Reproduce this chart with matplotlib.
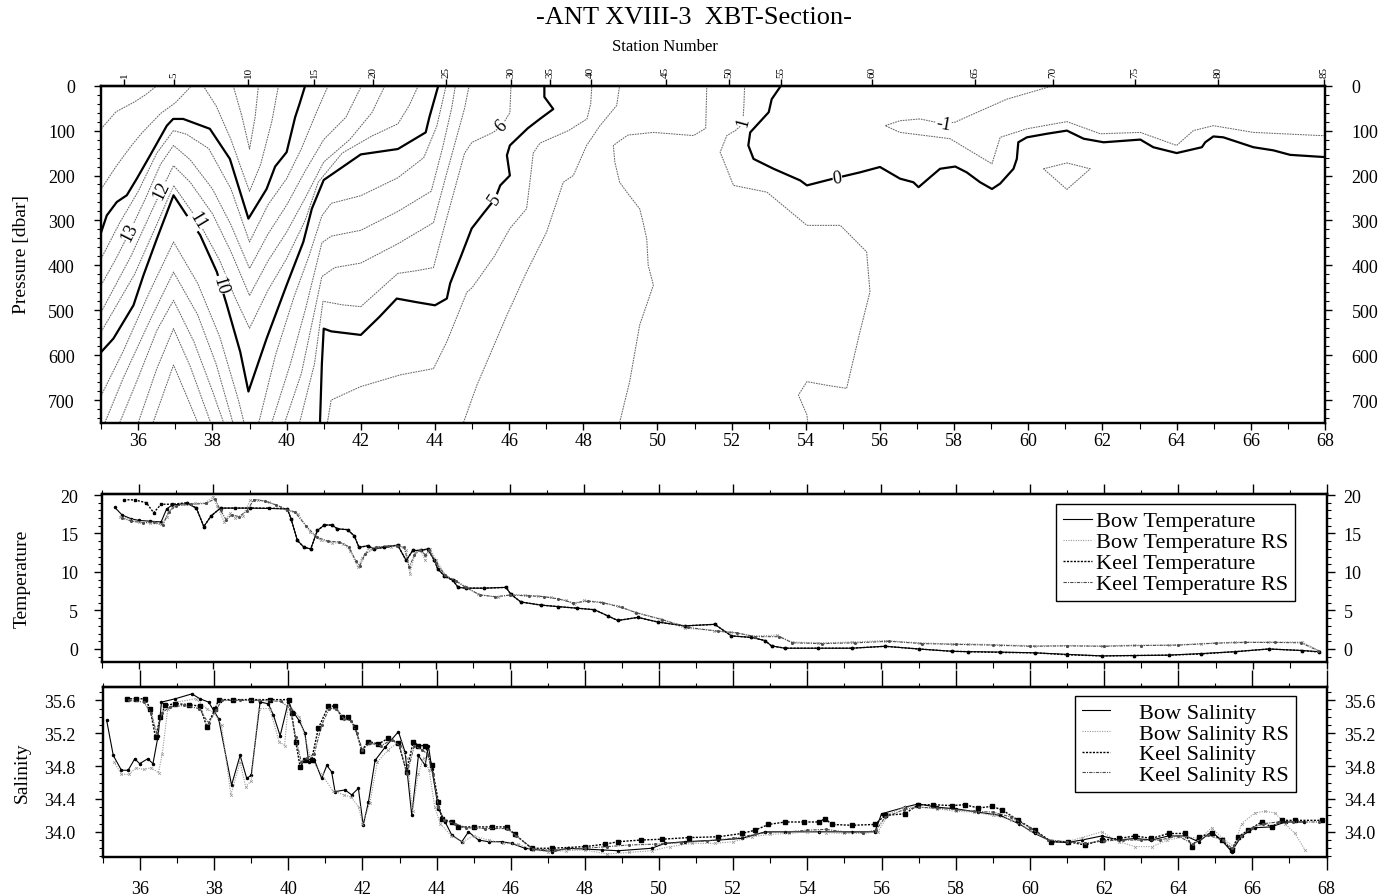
import matplotlib.pyplot as plt
from matplotlib.lines import Line2D
from matplotlib.ticker import MultipleLocator, FormatStrFormatter, NullFormatter

plt.rcParams['font.family'] = ['Liberation Serif', 'DejaVu Serif']
plt.rcParams['axes.linewidth'] = 1.6

# ---- station numbers along the track and their latitude (deg S) ----
station_no = [1, 5, 10, 15, 20, 25, 30, 35, 40, 45, 50, 55, 60, 65, 70, 75, 80, 85]
station_lat = [35.62, 36.95, 38.97, 40.75, 42.34, 44.29, 46.04, 47.09, 48.20,
               50.22, 51.92, 53.33, 55.78, 58.56, 60.67, 62.88, 65.12, 67.97]

# ---- XBT section: isotherms as (latitude, pressure) vertices ----
iso_18 = [(35.0, 96), (35.4, 58), (35.9, 36), (36.2, 20), (36.5, 0)]
iso_17 = [(35.0, 230), (35.4, 180), (35.8, 135), (36.1, 105), (36.6, 62), (37.0, 38), (37.44, 0)]
iso_16 = [(37.75, 0), (38.1, 45), (38.5, 120), (38.8, 190), (39.0, 235), (39.3, 175), (39.6, 80), (39.78, 0)]
iso_17b = [(38.56, 0), (38.8, 70), (39.0, 141), (39.15, 70), (39.24, 0)]
iso_15 = [(35.0, 326), (35.15, 289), (35.42, 259), (35.69, 244), (35.96, 207), (36.32, 155), (36.77, 89),
          (36.94, 74), (37.21, 74), (37.93, 96), (38.47, 163), (38.97, 296), (39.46, 230), (39.69, 180),
          (40.0, 148), (40.23, 70), (40.35, 40), (40.5, 0)]
iso_14 = [(35.0, 385), (35.5, 305), (36.0, 235), (36.5, 150), (36.95, 100), (37.3, 108), (37.9, 140),
          (38.5, 230), (39.0, 348), (39.5, 265), (40.0, 207), (40.4, 140), (40.8, 60), (41.12, 0)]
iso_13 = [(35.0, 444), (35.4, 385), (35.77, 325), (36.2, 250), (36.6, 175), (36.95, 133), (37.4, 165),
          (38.0, 230), (38.5, 310), (39.0, 407), (39.5, 330), (40.0, 266), (40.5, 190), (41.0, 120),
          (41.6, 70), (42.02, 0)]
iso_12 = [(35.0, 504), (35.8, 380), (36.3, 290), (36.62, 233), (36.95, 178), (37.4, 215), (38.0, 285),
          (38.5, 370), (39.0, 467), (39.5, 390), (40.0, 326), (40.5, 250), (41.0, 170), (41.7, 120),
          (42.3, 60), (42.65, 0)]
iso_11 = [(35.0, 548), (35.9, 420), (36.6, 290), (36.95, 222), (37.61, 300), (38.2, 390), (38.6, 470),
          (39.0, 540), (39.5, 455), (40.0, 385), (40.5, 300), (40.85, 215), (41.5, 150), (42.3, 112),
          (43.0, 85), (43.3, 45), (43.55, 0)]
iso_10 = [(35.0, 593), (35.33, 563), (35.87, 489), (36.14, 422), (36.5, 341), (36.95, 244), (37.31, 289),
          (37.67, 333), (38.12, 415), (38.39, 489), (38.75, 593), (38.97, 681), (39.46, 563), (40.0, 444),
          (40.45, 348), (40.68, 274), (41.0, 210), (42.0, 153), (43.0, 141), (43.75, 104), (43.85, 70),
          (44.09, 0)]
iso_9w = [(35.0, 690), (35.6, 590), (36.3, 460), (36.95, 348), (37.6, 440), (38.2, 560), (38.7, 700), (38.85, 750)]
iso_8w = [(35.1, 750), (35.6, 650), (36.3, 525), (36.95, 415), (37.6, 510), (38.1, 620), (38.55, 750)]
iso_7w = [(35.5, 750), (36.0, 650), (36.5, 545), (36.95, 478), (37.5, 570), (38.0, 680), (38.3, 750)]
iso_6w = [(36.0, 750), (36.5, 630), (36.95, 541), (37.4, 625), (37.95, 750)]
iso_5w = [(36.4, 750), (36.7, 680), (36.95, 622), (37.3, 690), (37.6, 750)]
iso_9 = [(39.25, 750), (39.7, 600), (40.2, 470), (40.6, 380), (40.95, 290), (41.2, 262), (42.0, 245),
         (43.0, 205), (43.7, 160), (44.05, 90), (44.3, 0)]
iso_8 = [(39.6, 750), (40.1, 620), (40.5, 500), (40.95, 350), (41.2, 335), (42.0, 322), (43.0, 280),
         (43.9, 235), (44.2, 140), (44.45, 50), (44.55, 0)]
iso_7 = [(39.95, 750), (40.4, 640), (40.95, 425), (41.3, 405), (42.0, 395), (43.0, 352), (43.96, 305),
         (44.3, 200), (44.6, 110), (44.8, 50), (44.92, 0)]
iso_6 = [(40.35, 750), (40.75, 620), (40.98, 480), (41.5, 488), (42.0, 492), (42.5, 455), (43.0, 418),
         (43.5, 412), (43.96, 405), (44.2, 330), (44.5, 240), (44.8, 150), (45.0, 126), (45.57, 104),
         (45.8, 90), (46.02, 60), (46.05, 0)]
iso_5 = [(40.9, 750), (40.95, 620), (41.0, 541), (41.2, 547), (42.0, 555), (42.5, 515), (42.97, 474),
         (43.5, 482), (44.0, 489), (44.32, 474), (44.41, 440), (44.7, 380), (44.99, 318), (45.3, 285),
         (45.62, 252), (45.76, 222), (46.02, 200), (45.94, 155), (46.02, 133), (46.5, 95), (46.83, 74),
         (47.19, 52), (46.95, 25), (46.95, 0)]
iso_4 = [(41.1, 750), (41.2, 700), (42.0, 670), (43.06, 644), (43.96, 630), (44.32, 570), (44.86, 460),
         (45.0, 450), (45.6, 380), (46.02, 318), (46.47, 274), (46.56, 215), (46.65, 150), (46.83, 128),
         (47.1, 118), (47.6, 100), (48.1, 74), (48.2, 40), (48.23, 0)]
iso_3 = [(44.77, 750), (45.13, 667), (45.94, 511), (46.47, 415), (47.01, 326), (47.46, 215), (47.73, 200),
         (48.09, 133), (48.45, 89), (48.9, 44), (48.98, 0)]
iso_2 = [(48.98, 750), (49.25, 659), (49.52, 533), (49.89, 444), (49.75, 400), (49.71, 341), (49.6, 300),
         (49.52, 274), (49.2, 240), (48.98, 215), (48.85, 170), (48.81, 133), (49.2, 110), (49.89, 104),
         (50.5, 108), (50.97, 111), (51.3, 95), (51.33, 0)]
iso_1 = [(52.35, 0), (52.33, 45), (52.3, 85), (52.1, 100), (51.87, 111), (51.69, 148), (52.05, 222),
         (52.95, 237), (54.03, 311), (54.93, 311), (55.64, 370), (55.73, 459), (55.46, 548), (55.1, 674),
         (54.56, 667), (54.03, 659), (53.8, 689), (54.03, 733), (54.05, 750)]
iso_0 = [(53.33, 0), (53.08, 30), (53.0, 59), (52.5, 104), (52.45, 133), (52.59, 163), (53.13, 185),
         (53.85, 211), (54.03, 222), (54.74, 207), (55.46, 193), (56.0, 181), (56.54, 207), (56.9, 215),
         (57.04, 226), (57.35, 204), (57.62, 185), (58.03, 180), (58.34, 193), (58.7, 215), (59.02, 230),
         (59.24, 218), (59.6, 185), (59.69, 163), (59.73, 126), (59.96, 115), (60.5, 107), (61.04, 100),
         (61.49, 118), (62.03, 126), (63.02, 120), (63.37, 137), (64.0, 150), (64.68, 137), (64.77, 126),
         (64.99, 113), (65.26, 115), (66.07, 137), (66.61, 144), (67.06, 154), (68.0, 159)]
iso_m1 = [(60.67, 0), (59.42, 30), (58.6, 60), (58.03, 81), (57.71, 85), (57.08, 74), (56.54, 78),
          (56.14, 89), (56.54, 104), (57.89, 118), (59.02, 174), (59.24, 115), (59.96, 96), (61.04, 80),
          (61.94, 107), (63.02, 104), (64.0, 133), (64.45, 100), (64.99, 89), (66.07, 104), (67.87, 111),
          (68.0, 111)]
iso_m1_cell = [(60.41, 185), (61.04, 172), (61.67, 185), (61.04, 231), (60.41, 185)]

# contour labels: text, latitude, pressure, angle on the page
iso_labels = [('13', 35.77, 325, 63), ('12', 36.62, 233, 64), ('11', 37.61, 300, -59),
              ('10', 38.2, 444, -73), ('5', 45.62, 252, 56), ('6', 45.8, 90, 45),
              ('1', 52.3, 80, 75), ('0', 54.85, 205, 8), ('-1', 57.71, 84, -10)]

# ---- underway temperature (latitude, degC) ----
bow_t = [(35.35, 18.4), (35.55, 17.4), (35.8, 16.9), (36.0, 16.7), (36.3, 16.6), (36.6, 16.5), (36.75, 18.2),
         (36.9, 18.7), (37.3, 18.9), (37.55, 18.3), (37.75, 15.9), (37.95, 17.3), (38.2, 18.3), (39.0, 18.3),
         (40.0, 18.2), (40.1, 16.9), (40.27, 14.1), (40.45, 13.2), (40.63, 13.0), (40.81, 15.4), (41.0, 16.1),
         (41.2, 16.1), (41.35, 15.6), (41.62, 15.5), (41.8, 14.7), (41.93, 13.2), (42.16, 13.4), (42.34, 13.0),
         (42.6, 13.2), (42.97, 13.5), (43.2, 11.5), (43.38, 12.8), (43.6, 12.8), (43.78, 13.0), (43.96, 11.5),
         (44.05, 10.4), (44.23, 9.5), (44.46, 8.9), (44.6, 8.0), (44.82, 7.9), (45.3, 7.9), (45.89, 8.0),
         (46.02, 7.1), (46.29, 6.1), (46.83, 5.7), (47.3, 5.5), (47.8, 5.3), (48.27, 5.1), (48.63, 4.3),
         (48.9, 3.7), (49.44, 4.1), (49.98, 3.5), (50.7, 3.0), (51.51, 3.2), (51.96, 1.7), (52.5, 1.5),
         (52.86, 1.1), (53.04, 0.4), (53.4, 0.1), (54.3, 0.1), (55.2, 0.1), (56.1, 0.35), (57.0, 0.0),
         (57.9, -0.3), (58.34, -0.35), (59.2, -0.4), (60.13, -0.5), (61.0, -0.7), (61.94, -0.9),
         (62.8, -0.85), (63.74, -0.8), (64.6, -0.6), (65.53, -0.35), (66.43, 0.0), (67.33, -0.2), (67.78, -0.35)]
bow_t_rs = [(35.5, 17.2), (35.8, 16.8), (36.0, 16.5), (36.3, 16.3), (36.6, 16.2), (36.75, 17.2), (36.9, 18.4),
            (37.2, 18.8), (37.5, 18.9), (37.8, 19.0), (38.0, 19.8), (38.1, 18.6), (38.3, 16.5), (38.45, 17.6),
            (38.6, 17.0), (38.8, 17.3), (39.0, 19.3), (39.2, 19.4), (39.5, 19.1), (39.8, 18.5), (40.0, 18.0),
            (40.3, 17.5), (40.6, 15.2), (40.9, 14.1), (41.2, 13.8), (41.5, 13.7), (41.7, 12.7), (41.9, 10.6),
            (42.0, 11.8), (42.2, 13.1), (42.5, 13.3), (42.8, 13.3), (43.0, 13.5), (43.2, 12.8), (43.3, 9.8),
            (43.45, 12.6), (43.6, 12.8), (43.7, 11.6), (43.85, 13.0), (44.0, 11.6), (44.3, 9.3), (44.5, 9.0),
            (44.77, 8.2), (45.13, 7.1), (45.67, 6.7), (46.02, 7.1), (46.4, 7.0), (46.74, 6.9), (47.1, 6.7),
            (47.5, 6.3), (47.73, 5.8), (48.0, 6.3), (48.45, 6.1), (48.9, 5.6), (49.35, 4.8), (50.07, 3.9),
            (50.7, 2.7), (51.5, 2.4), (51.96, 2.2), (52.5, 1.7), (53.2, 1.8), (53.58, 0.9), (54.3, 0.8),
            (55.2, 0.9), (56.1, 1.1), (57.0, 0.8), (57.9, 0.65), (58.34, 0.65), (59.2, 0.55), (60.13, 0.4),
            (61.0, 0.45), (61.94, 0.4), (62.8, 0.5), (63.74, 0.5), (64.6, 0.7), (65.53, 0.9), (66.4, 0.9),
            (67.33, 0.9), (67.78, -0.2)]
keel_t = [(35.6, 19.4), (35.9, 19.35), (36.2, 19.0), (36.4, 17.7), (36.6, 18.8), (36.9, 18.8), (37.3, 19.0),
          (37.55, 18.3), (37.75, 15.9), (37.95, 17.3), (38.2, 18.3), (38.6, 18.3), (39.0, 18.3), (39.5, 18.3),
          (40.0, 18.2), (40.1, 16.9), (40.27, 14.1), (40.45, 13.2), (40.63, 13.0), (40.81, 15.4), (41.0, 16.1),
          (41.2, 16.1), (41.35, 15.6), (41.62, 15.5), (41.8, 14.7), (41.93, 13.2), (42.16, 13.4), (42.34, 13.0),
          (42.6, 13.2), (42.97, 13.5), (43.2, 11.5), (43.38, 12.8), (43.6, 12.8), (43.78, 13.0), (43.96, 11.5),
          (44.05, 10.4), (44.23, 9.5), (44.46, 8.9), (44.6, 8.0), (44.82, 7.9), (45.3, 7.9), (45.89, 8.0),
          (46.02, 7.1), (46.29, 6.1), (46.83, 5.7), (47.3, 5.5), (47.8, 5.3), (48.27, 5.1), (48.63, 4.3),
          (48.9, 3.7), (49.44, 4.1), (49.98, 3.5), (50.7, 3.0), (51.51, 3.2), (51.96, 1.7), (52.5, 1.5),
          (52.86, 1.1), (53.04, 0.4), (53.4, 0.1), (54.3, 0.1), (55.2, 0.1), (56.1, 0.35), (57.0, 0.0),
          (57.9, -0.3), (58.34, -0.35), (59.2, -0.45), (60.13, -0.5), (61.0, -0.75), (61.94, -0.9),
          (62.8, -0.85), (63.74, -0.8), (64.6, -0.65), (65.53, -0.35), (66.43, 0.0), (67.33, -0.2), (67.78, -0.4)]
keel_t_rs = [(35.55, 17.0), (35.8, 16.6), (36.1, 16.4), (36.4, 16.5), (36.65, 16.1), (36.8, 17.8), (37.0, 18.6),
             (37.4, 18.8), (37.8, 18.9), (38.05, 19.5), (38.2, 18.0), (38.35, 16.8), (38.5, 17.4), (38.7, 17.2),
             (38.9, 17.9), (39.1, 19.4), (39.4, 19.2), (39.7, 18.7), (40.0, 18.1), (40.2, 17.8), (40.5, 16.0),
             (40.8, 14.5), (41.1, 14.0), (41.4, 13.9), (41.65, 13.3), (41.85, 11.4), (41.95, 10.8), (42.1, 12.4),
             (42.4, 13.2), (42.7, 13.4), (42.95, 13.4), (43.15, 13.2), (43.28, 10.6), (43.42, 12.2), (43.58, 12.9),
             (43.72, 12.2), (43.82, 12.9), (44.0, 11.2), (44.25, 9.6), (44.55, 8.8), (44.8, 8.0), (45.2, 7.0),
             (45.6, 6.8), (46.0, 7.0), (46.5, 6.9), (46.9, 6.8), (47.3, 6.5), (47.7, 6.0), (48.1, 6.2),
             (48.5, 6.0), (49.0, 5.4), (49.4, 4.7), (50.1, 3.8), (50.8, 2.8), (51.6, 2.3), (52.1, 2.1),
             (52.6, 1.6), (53.25, 1.6), (53.6, 0.8), (54.4, 0.7), (55.3, 0.8), (56.2, 1.0), (57.1, 0.7),
             (58.0, 0.6), (59.0, 0.5), (60.0, 0.35), (61.0, 0.4), (62.0, 0.35), (63.0, 0.45), (64.0, 0.5),
             (65.0, 0.75), (65.8, 0.85), (66.6, 0.85), (67.3, 0.8), (67.75, -0.2)]

# ---- underway salinity (latitude, psu) ----
bow_s = [(35.1, 35.36), (35.28, 34.93), (35.5, 34.75), (35.68, 34.75), (35.86, 34.89), (35.99, 34.83),
         (36.21, 34.89), (36.35, 34.83), (36.49, 35.17), (36.58, 35.58), (36.95, 35.62), (37.4, 35.68),
         (37.62, 35.62), (37.85, 35.58), (38.12, 35.38), (38.47, 34.57), (38.7, 34.93), (38.88, 34.65),
         (39.0, 34.69), (39.24, 35.58), (39.46, 35.56), (39.6, 35.42), (39.78, 35.17), (40.0, 35.58),
         (40.15, 35.45), (40.3, 35.35), (40.45, 35.2), (40.55, 34.85), (40.7, 34.88), (40.9, 34.65),
         (41.04, 34.81), (41.17, 34.73), (41.26, 34.49), (41.53, 34.51), (41.71, 34.45), (41.89, 34.53),
         (42.02, 34.08), (42.16, 34.36), (42.34, 34.87), (42.61, 35.03), (42.97, 35.22), (43.15, 34.97),
         (43.33, 34.2), (43.51, 34.93), (43.69, 34.81), (43.78, 35.05), (43.87, 34.77), (44.05, 34.28),
         (44.23, 34.12), (44.41, 33.96), (44.68, 33.88), (44.86, 34.0), (45.13, 33.9), (45.4, 33.88),
         (45.76, 33.88), (46.02, 33.86), (46.38, 33.8), (47.1, 33.76), (47.55, 33.8), (48.45, 33.78),
         (48.9, 33.77), (49.8, 33.8), (50.16, 33.86), (50.7, 33.88), (51.6, 33.9), (52.23, 33.92),
         (52.86, 34.0), (53.4, 34.0), (54.3, 34.0), (55.2, 34.0), (55.82, 34.0), (56.0, 34.22), (56.63, 34.3),
         (56.99, 34.34), (57.5, 34.3), (58.0, 34.28), (58.6, 34.24), (59.2, 34.2), (59.7, 34.1), (60.13, 33.98),
         (60.6, 33.88), (61.0, 33.87), (61.4, 33.9), (61.94, 33.95), (62.4, 33.9), (62.84, 33.92),
         (63.28, 33.9), (63.74, 33.95), (64.2, 33.95), (64.55, 33.88), (64.9, 34.0), (65.17, 33.9),
         (65.44, 33.76), (65.71, 33.95), (66.07, 34.05), (66.5, 34.06), (66.9, 34.12), (67.4, 34.12)]
bow_s_rs = [(35.3, 34.85), (35.5, 34.7), (35.7, 34.7), (35.9, 34.78), (36.1, 34.76), (36.3, 34.78),
            (36.5, 34.72), (36.6, 34.95), (36.75, 35.5), (37.0, 35.58), (37.5, 35.62), (37.8, 35.5),
            (38.0, 35.45), (38.2, 35.3), (38.45, 34.45), (38.7, 34.85), (38.85, 34.55), (39.0, 34.62),
            (39.2, 35.5), (39.5, 35.5), (39.75, 35.1), (39.9, 35.05), (40.0, 35.55), (40.3, 35.4),
            (40.6, 34.9), (40.9, 34.7), (41.2, 34.5), (41.5, 34.45), (41.7, 34.42), (41.9, 34.3), (42.0, 34.1),
            (42.2, 34.35), (42.4, 34.85), (42.7, 35.0), (43.0, 35.1), (43.2, 34.9), (43.35, 34.25),
            (43.5, 34.7), (43.65, 34.9), (43.8, 34.75), (43.95, 34.3), (44.1, 34.1), (44.4, 33.95),
            (44.7, 33.88), (45.0, 33.95), (45.4, 33.9), (45.8, 33.86), (46.2, 33.85), (46.6, 33.78),
            (47.0, 33.76), (47.5, 33.77), (48.0, 33.78), (48.6, 33.73), (49.2, 33.75), (49.8, 33.77),
            (50.3, 33.82), (50.9, 33.86), (51.5, 33.86), (52.0, 33.88), (52.5, 33.94), (53.0, 33.97),
            (53.5, 33.98), (54.0, 34.0), (54.5, 33.99), (55.0, 33.98), (55.5, 33.98), (55.9, 34.0),
            (56.2, 34.22), (56.6, 34.3), (57.0, 34.3), (57.5, 34.28), (58.0, 34.25), (58.5, 34.24),
            (59.0, 34.2), (59.5, 34.15), (60.0, 34.02), (60.5, 33.9), (61.0, 33.88), (61.4, 33.93),
            (61.94, 34.0), (62.4, 33.88), (62.84, 33.82), (63.3, 33.82), (63.7, 33.9), (64.2, 33.94),
            (64.6, 33.92), (64.9, 34.05), (65.2, 33.92), (65.5, 33.82), (65.71, 34.1), (66.07, 34.23),
            (66.34, 34.25), (66.61, 34.23), (66.88, 34.1), (67.15, 33.98), (67.42, 33.78)]
keel_s = [(35.64, 35.62), (35.9, 35.62), (36.14, 35.62), (36.27, 35.5), (36.42, 35.15), (36.55, 35.4),
          (36.68, 35.54), (36.95, 35.56), (37.31, 35.55), (37.62, 35.53), (37.8, 35.28), (38.03, 35.5),
          (38.12, 35.61), (38.5, 35.61), (39.0, 35.61), (39.5, 35.61), (40.01, 35.61), (40.09, 35.45),
          (40.2, 35.1), (40.32, 34.79), (40.45, 34.88), (40.63, 34.88), (40.81, 35.26), (41.08, 35.53),
          (41.26, 35.53), (41.44, 35.4), (41.62, 35.4), (41.8, 35.28), (41.98, 34.99), (42.16, 35.1),
          (42.43, 35.07), (42.7, 35.14), (42.97, 35.08), (43.19, 34.73), (43.37, 35.1), (43.51, 35.05),
          (43.69, 35.05), (43.87, 34.81), (44.05, 34.36), (44.14, 34.16), (44.41, 34.12), (44.59, 34.06),
          (45.0, 34.06), (45.5, 34.06), (45.89, 34.06), (46.11, 33.97), (46.56, 33.8), (47.1, 33.8),
          (48.0, 33.82), (48.54, 33.85), (48.9, 33.88), (49.5, 33.9), (50.07, 33.91), (50.8, 33.93),
          (51.6, 33.94), (52.23, 33.98), (52.59, 34.02), (52.95, 34.09), (53.4, 34.12), (53.9, 34.12),
          (54.3, 34.12), (54.48, 34.16), (54.66, 34.09), (55.2, 34.08), (55.82, 34.09), (56.09, 34.2),
          (56.63, 34.22), (56.99, 34.33), (57.4, 34.33), (57.89, 34.32), (58.25, 34.33), (58.61, 34.29),
          (58.97, 34.31), (59.24, 34.27), (59.69, 34.14), (60.13, 34.02), (60.58, 33.88), (61.03, 33.88),
          (61.48, 33.84), (61.94, 33.9), (62.4, 33.92), (62.84, 33.95), (63.28, 33.92), (63.74, 33.98),
          (64.19, 33.98), (64.37, 33.82), (64.55, 33.94), (64.9, 33.98), (65.17, 33.9), (65.44, 33.78),
          (65.62, 33.94), (65.89, 34.02), (66.25, 34.12), (66.52, 34.06), (66.79, 34.14), (67.15, 34.14),
          (67.87, 34.14)]
keel_s_rs = [(35.7, 35.6), (36.1, 35.58), (36.3, 35.45), (36.45, 35.2), (36.6, 35.45), (36.8, 35.52),
             (37.2, 35.54), (37.6, 35.5), (37.85, 35.32), (38.05, 35.48), (38.2, 35.6), (38.7, 35.6),
             (39.2, 35.6), (39.8, 35.59), (40.05, 35.5), (40.2, 35.15), (40.35, 34.85), (40.5, 34.9),
             (40.7, 34.95), (40.9, 35.3), (41.1, 35.5), (41.3, 35.5), (41.5, 35.38), (41.7, 35.35),
             (41.85, 35.2), (42.0, 35.0), (42.2, 35.08), (42.5, 35.05), (42.8, 35.12), (43.0, 35.05),
             (43.2, 34.7), (43.4, 35.05), (43.6, 35.0), (43.75, 34.95), (43.9, 34.7), (44.05, 34.3),
             (44.2, 34.14), (44.5, 34.1), (44.8, 34.05), (45.3, 34.04), (45.9, 34.04), (46.15, 33.95),
             (46.6, 33.79), (47.2, 33.78), (48.0, 33.8), (48.6, 33.82), (49.2, 33.84), (49.9, 33.85),
             (50.6, 33.87), (51.3, 33.89), (52.0, 33.92), (52.6, 33.97), (53.0, 34.0), (53.5, 34.0),
             (54.0, 34.02), (54.5, 34.03), (55.0, 34.0), (55.5, 33.99), (55.85, 34.02), (56.1, 34.18),
             (56.6, 34.27), (57.0, 34.3), (57.5, 34.29), (58.0, 34.27), (58.5, 34.25), (59.0, 34.24),
             (59.5, 34.18), (60.0, 34.05), (60.5, 33.9), (61.0, 33.88), (61.5, 33.86), (62.0, 33.89),
             (62.5, 33.9), (63.0, 33.9), (63.5, 33.9), (64.0, 33.95), (64.4, 33.85), (64.8, 33.96),
             (65.2, 33.9), (65.45, 33.8), (65.7, 33.95), (66.0, 34.05), (66.3, 34.1), (66.7, 34.12),
             (67.1, 34.12), (67.8, 34.12)]

# line styles for the four sensors
st_bow = dict(color='k', lw=0.8, ls='-')
st_bow_rs = dict(color='0.6', lw=0.8, ls=(0, (1, 1.2)))
st_keel = dict(color='k', lw=1.0, ls=(0, (1.5, 1)))
st_keel_rs = dict(color='0.3', lw=0.8, ls=(0, (3, 1, 1, 1)))

fig = plt.figure(figsize=(13.88, 8.95), dpi=100)


def axes_at(left, top, right, bottom):
    return fig.add_axes([left / 1388, 1 - bottom / 895, (right - left) / 1388, (bottom - top) / 895])


ax1 = axes_at(101.2, 86.7, 1325.0, 423.5)
ax2 = axes_at(101.7, 495.0, 1327.0, 663.3)
ax3 = axes_at(102.9, 688.3, 1326.5, 858.3)


def y_axis(ax, ylim, major, minor, fmt, pad_l, pad_r, mlen):
    ax.set_ylim(*ylim)
    right = ax.twinx()
    right.set_ylim(*ylim)
    for a, pad in ((ax, pad_l), (right, pad_r)):
        a.yaxis.set_major_locator(MultipleLocator(major))
        a.yaxis.set_minor_locator(MultipleLocator(minor))
        a.yaxis.set_major_formatter(FormatStrFormatter(fmt))
        a.tick_params(axis='y', which='major', direction='out', length=mlen, width=1.0,
                      labelsize=13, pad=pad)
        a.tick_params(axis='y', which='minor', direction='out', length=3, width=0.8)
    return right


def x_axis(ax, labels, blen, bpad):
    ax.set_xlim(35, 68)
    ax.xaxis.set_major_locator(MultipleLocator(2))
    ax.xaxis.set_minor_locator(MultipleLocator(1))
    ax.xaxis.set_major_formatter(FormatStrFormatter('%d'))
    ax.tick_params(axis='x', which='major', direction='out', length=blen, width=1.0,
                   labelsize=13, pad=bpad, labelbottom=labels)
    ax.tick_params(axis='x', which='minor', direction='out', length=4, width=0.8)


def top_ticks(ax, mlen):
    sec = ax.secondary_xaxis('top')
    sec.xaxis.set_major_locator(MultipleLocator(2))
    sec.xaxis.set_minor_locator(MultipleLocator(1))
    sec.xaxis.set_major_formatter(NullFormatter())
    sec.tick_params(axis='x', which='major', direction='out', length=mlen, width=1.0)
    sec.tick_params(axis='x', which='minor', direction='out', length=3, width=0.8)


# ---- top panel: isotherm section ----
bold_lines = [iso_15, iso_10, iso_5, iso_0]
thin_lines = [iso_18, iso_17, iso_16, iso_17b, iso_14, iso_13, iso_12, iso_11,
              iso_9w, iso_8w, iso_7w, iso_6w, iso_5w, iso_9, iso_8, iso_7, iso_6,
              iso_4, iso_3, iso_2, iso_1, iso_m1, iso_m1_cell]
for line in thin_lines:
    lat, p = zip(*line)
    ax1.plot(lat, p, color='0.4', lw=0.75, ls=(0, (1.6, 0.9)))
for line in bold_lines:
    lat, p = zip(*line)
    ax1.plot(lat, p, color='k', lw=1.6, solid_joinstyle='round')
for txt, lat, p, rot in iso_labels:
    ax1.text(lat, p, txt, rotation=rot, ha='center', va='center', fontsize=13,
             bbox=dict(fc='white', ec='none', pad=0.2))

y_axis(ax1, (750, 0), 100, 20, '%d', 14, 14, 5)
x_axis(ax1, True, 5, 2)
st = ax1.secondary_xaxis('top')
st.set_xticks(station_lat)
st.set_xticklabels([str(n) for n in station_no])
st.tick_params(axis='x', direction='out', length=5, width=1.0, labelsize=8,
               labelrotation=90, pad=1)

# ---- middle panel: temperature ----
for pts, sty, mk in ((bow_t, st_bow, dict(marker='.', ms=3)),
                     (bow_t_rs, st_bow_rs, dict(marker='x', ms=2, mew=0.5)),
                     (keel_t, st_keel, dict(marker='s', ms=1.8)),
                     (keel_t_rs, st_keel_rs, dict(marker='.', ms=2.5))):
    lat, val = zip(*pts)
    ax2.plot(lat, val, **sty, **mk)
y_axis(ax2, (-1.73, 20.13), 5, 1, '%d', 11, 6, 6)
x_axis(ax2, False, 5, 2)
top_ticks(ax2, 7)
handles = [Line2D([], [], **s) for s in (st_bow, st_bow_rs, st_keel, st_keel_rs)]
leg = ax2.legend(handles, ['Bow Temperature', 'Bow Temperature RS', 'Keel Temperature',
                           'Keel Temperature RS'],
                 loc='upper right', bbox_to_anchor=(0.974, 0.94), fontsize=16, fancybox=False,
                 edgecolor='k', framealpha=1, handlelength=1.3, handletextpad=0.2,
                 labelspacing=0.02, borderpad=0.3, borderaxespad=0)
leg.get_frame().set_linewidth(1.0)

# ---- bottom panel: salinity ----
for pts, sty, mk in ((bow_s, st_bow, dict(marker='.', ms=3)),
                     (bow_s_rs, st_bow_rs, dict(marker='x', ms=2, mew=0.5)),
                     (keel_s, st_keel, dict(marker='s', ms=2.2)),
                     (keel_s_rs, st_keel_rs, dict(marker='.', ms=2.5))):
    lat, val = zip(*pts)
    ax3.plot(lat, val, **sty, **mk)
y_axis(ax3, (33.69, 35.76), 0.4, 0.1, '%.1f', 14, 7, 6)
x_axis(ax3, True, 9, 7)
top_ticks(ax3, 12)
leg = ax3.legend(handles, ['Bow Salinity', 'Bow Salinity RS', 'Keel Salinity', 'Keel Salinity RS'],
                 loc='upper right', bbox_to_anchor=(0.975, 0.949), fontsize=16, fancybox=False,
                 edgecolor='k', framealpha=1, handlelength=1.3, handletextpad=1.3,
                 labelspacing=0.0, borderpad=0.3, borderaxespad=0)
leg.get_frame().set_linewidth(1.0)

# ---- titles and axis names ----
fig.text(694 / 1388, 1 - 18 / 895, '-ANT XVIII-3  XBT-Section-', ha='center', va='center', fontsize=19)
fig.text(665 / 1388, 1 - 47 / 895, 'Station Number', ha='center', va='center', fontsize=12)
fig.text(22 / 1388, 1 - 255 / 895, 'Pressure [dbar]', rotation=90, ha='center', va='center', fontsize=14)
fig.text(22 / 1388, 1 - 579 / 895, 'Temperature', rotation=90, ha='center', va='center', fontsize=14)
fig.text(22 / 1388, 1 - 773 / 895, 'Salinity', rotation=90, ha='center', va='center', fontsize=14)

fig.savefig('out.png', dpi=100)
